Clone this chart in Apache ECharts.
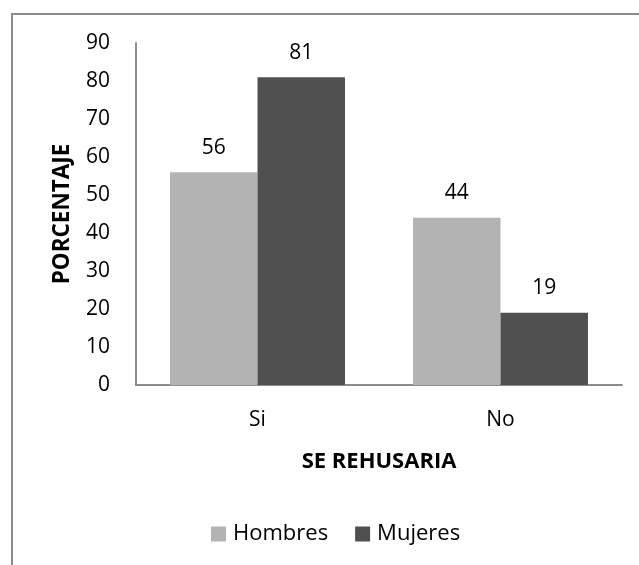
<!DOCTYPE html>
<html>
<head>
<meta charset="utf-8">
<script src="https://cdn.jsdelivr.net/npm/echarts@6/dist/echarts.min.js"></script>
<style>
  html, body { margin: 0; padding: 0; background: #fff; }
  #chart { width: 639px; height: 565px; }
</style>
</head>
<body>
<div id="chart"></div>
<script>
// datos del grafico
var categorias = ['Si', 'No'];
var hombres = [56, 44];
var mujeres = [81, 19];
var ticksY = [0, 10, 20, 30, 40, 50, 60, 70, 80, 90];

var fuente = 'Open Sans';
var chart = echarts.init(document.getElementById('chart'));

chart.setOption({
  animation: false,
  textStyle: { fontFamily: fuente },
  // marco del area del grafico (sale del lienzo por derecha y abajo)
  graphic: [{
    type: 'rect',
    shape: { x: 12, y: 14, width: 800, height: 800 },
    style: { fill: 'none', stroke: '#8c8c8c', lineWidth: 2 },
    silent: true
  }],
  legend: {
    bottom: 15,
    left: 206,
    itemWidth: 15,
    itemHeight: 15,
    itemGap: 27,
    icon: 'rect',
    textStyle: { fontSize: 22, color: '#000', fontFamily: fuente, padding: [0, 0, 0, 2] }
  },
  grid: { left: 136, right: 17, top: 43, bottom: 180 },
  xAxis: {
    type: 'category',
    data: categorias,
    name: 'SE REHUSARIA',
    nameLocation: 'middle',
    nameGap: 66,
    nameTextStyle: { fontSize: 22, fontWeight: 'bold', color: '#000', fontFamily: fuente },
    axisLine: { show: true, lineStyle: { color: '#8c8c8c', width: 2 } },
    axisTick: { show: false },
    axisLabel: { margin: 25, fontSize: 21, color: '#000', fontFamily: fuente }
  },
  yAxis: {
    type: 'value',
    min: ticksY[0],
    max: ticksY[ticksY.length - 1],
    interval: ticksY[1] - ticksY[0],
    name: 'PORCENTAJE',
    nameLocation: 'middle',
    nameGap: 62,
    nameRotate: 90,
    nameTextStyle: { fontSize: 22.5, fontWeight: 'bold', color: '#000', fontFamily: fuente },
    axisLine: { show: true, lineStyle: { color: '#8c8c8c', width: 2 } },
    axisTick: { show: false },
    splitLine: { show: false },
    axisLabel: { margin: 26, fontSize: 21, color: '#000', fontFamily: fuente }
  },
  series: [{
    name: 'Hombres',
    type: 'bar',
    data: hombres,
    barGap: '0%',
    barCategoryGap: '28%',
    itemStyle: { color: '#b3b3b3' },
    label: { show: true, position: 'top', distance: 14, fontSize: 21, color: '#000', fontFamily: fuente }
  }, {
    name: 'Mujeres',
    type: 'bar',
    data: mujeres,
    itemStyle: { color: '#505050' },
    label: { show: true, position: 'top', distance: 14, fontSize: 21, color: '#000', fontFamily: fuente }
  }]
});
</script>
</body>
</html>
